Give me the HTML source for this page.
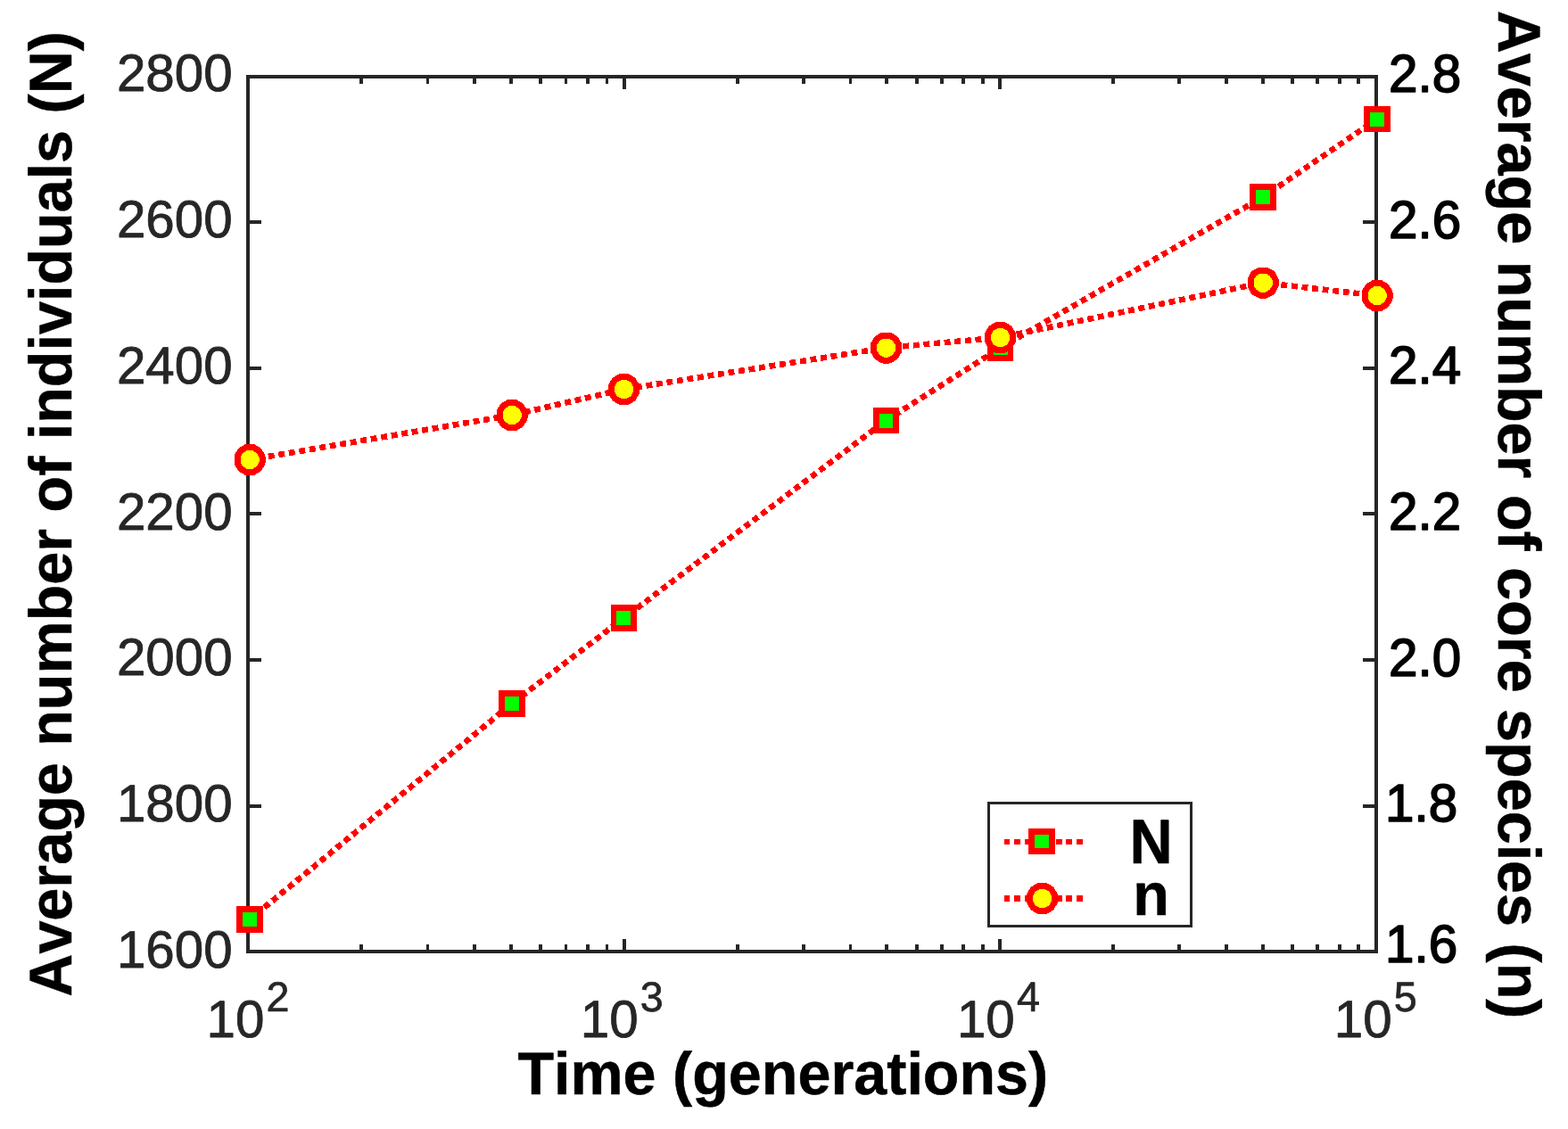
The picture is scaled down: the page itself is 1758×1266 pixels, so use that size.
<!DOCTYPE html>
<html lang="en"><head><meta charset="utf-8">
<title>Average number of individuals (N) and core species (n) vs time</title>
<style>
html,body{margin:0;padding:0;background:#fff;}
body{width:1758px;height:1266px;overflow:hidden;}
svg{display:block;}
text{font-family:"Liberation Sans", sans-serif;font-kerning:none;font-variant-ligatures:none;text-rendering:geometricPrecision;}
.tk{font-size:58.33px;fill:#262626;stroke:#262626;stroke-width:0.8px;stroke-linejoin:round;}
.tkr{font-size:58.33px;fill:#000;stroke:#000;stroke-width:1.6px;stroke-linejoin:round;}
.sup{font-size:46.67px;fill:#262626;stroke-width:0.7px;}
.lab{font-size:66.67px;font-weight:bold;fill:#000;stroke:#000;stroke-width:0.5px;stroke-linejoin:round;}
.ax{fill:#262626;shape-rendering:crispEdges;}
.dl{fill:none;stroke:#ff0000;stroke-width:6.6;stroke-dasharray:6.9 4.75;stroke-dashoffset:2.1;stroke-linejoin:miter;shape-rendering:crispEdges;}
.sqo{fill:#ff0000;shape-rendering:crispEdges;}
.sqi{fill:#00ff00;shape-rendering:crispEdges;}
.ci{fill:#ffff00;stroke:#ff0000;stroke-width:7;stroke-linejoin:round;shape-rendering:crispEdges;}
.lg{stroke-width:6;stroke-dasharray:6 5 7 5 7 5 7 4.5 7 4.5 7 4 7 5 7;stroke-dashoffset:0;}
</style></head><body>
<svg width="1758" height="1266" viewBox="0 0 1758 1266">
<rect x="0" y="0" width="1758" height="1266" fill="#fff"/>
<g class="ax">
<rect x="276.0" y="84.0" width="1269" height="4"/>
<rect x="276.0" y="1065.0" width="1269" height="4"/>
<rect x="276.0" y="84.0" width="4" height="985"/>
<rect x="1541.0" y="84.0" width="4" height="985"/>
<rect x="276.0" y="247" width="17" height="4"/>
<rect x="1528.0" y="247" width="17" height="4"/>
<rect x="276.0" y="411" width="17" height="4"/>
<rect x="1528.0" y="411" width="17" height="4"/>
<rect x="276.0" y="574" width="17" height="4"/>
<rect x="1528.0" y="574" width="17" height="4"/>
<rect x="276.0" y="738" width="17" height="4"/>
<rect x="1528.0" y="738" width="17" height="4"/>
<rect x="276.0" y="902" width="17" height="4"/>
<rect x="1528.0" y="902" width="17" height="4"/>
<rect x="403" y="1059.0" width="4" height="10"/>
<rect x="403" y="84.0" width="4" height="10"/>
<rect x="478" y="1059.0" width="3" height="10"/>
<rect x="478" y="84.0" width="3" height="10"/>
<rect x="530" y="1059.0" width="4" height="10"/>
<rect x="530" y="84.0" width="4" height="10"/>
<rect x="571" y="1059.0" width="4" height="10"/>
<rect x="571" y="84.0" width="4" height="10"/>
<rect x="604" y="1059.0" width="4" height="10"/>
<rect x="604" y="84.0" width="4" height="10"/>
<rect x="633" y="1059.0" width="3" height="10"/>
<rect x="633" y="84.0" width="3" height="10"/>
<rect x="657" y="1059.0" width="4" height="10"/>
<rect x="657" y="84.0" width="4" height="10"/>
<rect x="679" y="1059.0" width="3" height="10"/>
<rect x="679" y="84.0" width="3" height="10"/>
<rect x="698" y="1053.0" width="4" height="16"/>
<rect x="698" y="84.0" width="4" height="16"/>
<rect x="825" y="1059.0" width="4" height="10"/>
<rect x="825" y="84.0" width="4" height="10"/>
<rect x="899" y="1059.0" width="4" height="10"/>
<rect x="899" y="84.0" width="4" height="10"/>
<rect x="952" y="1059.0" width="3" height="10"/>
<rect x="952" y="84.0" width="3" height="10"/>
<rect x="992" y="1059.0" width="4" height="10"/>
<rect x="992" y="84.0" width="4" height="10"/>
<rect x="1026" y="1059.0" width="4" height="10"/>
<rect x="1026" y="84.0" width="4" height="10"/>
<rect x="1054" y="1059.0" width="4" height="10"/>
<rect x="1054" y="84.0" width="4" height="10"/>
<rect x="1078" y="1059.0" width="4" height="10"/>
<rect x="1078" y="84.0" width="4" height="10"/>
<rect x="1100" y="1059.0" width="4" height="10"/>
<rect x="1100" y="84.0" width="4" height="10"/>
<rect x="1119" y="1053.0" width="4" height="16"/>
<rect x="1119" y="84.0" width="4" height="16"/>
<rect x="1246" y="1059.0" width="4" height="10"/>
<rect x="1246" y="84.0" width="4" height="10"/>
<rect x="1320" y="1059.0" width="4" height="10"/>
<rect x="1320" y="84.0" width="4" height="10"/>
<rect x="1373" y="1059.0" width="4" height="10"/>
<rect x="1373" y="84.0" width="4" height="10"/>
<rect x="1414" y="1059.0" width="4" height="10"/>
<rect x="1414" y="84.0" width="4" height="10"/>
<rect x="1447" y="1059.0" width="4" height="10"/>
<rect x="1447" y="84.0" width="4" height="10"/>
<rect x="1475" y="1059.0" width="4" height="10"/>
<rect x="1475" y="84.0" width="4" height="10"/>
<rect x="1500" y="1059.0" width="4" height="10"/>
<rect x="1500" y="84.0" width="4" height="10"/>
<rect x="1521" y="1059.0" width="4" height="10"/>
<rect x="1521" y="84.0" width="4" height="10"/>
</g>
<text class="tk" transform="translate(260.65 102.40) scale(1.0 1.008)" text-anchor="end">2800</text>
<text class="tk" transform="translate(260.65 266.10) scale(1.0 1.008)" text-anchor="end">2600</text>
<text class="tk" transform="translate(260.65 429.80) scale(1.0 1.008)" text-anchor="end">2400</text>
<text class="tk" transform="translate(260.65 593.50) scale(1.0 1.008)" text-anchor="end">2200</text>
<text class="tk" transform="translate(260.65 757.20) scale(1.0 1.008)" text-anchor="end">2000</text>
<text class="tk" transform="translate(260.65 920.90) scale(1.0 1.008)" text-anchor="end">1800</text>
<text class="tk" transform="translate(260.65 1084.60) scale(1.0 1.008)" text-anchor="end">1600</text>
<text class="tkr" transform="translate(1557.00 103.30) scale(1.0 1.021)">2.8</text>
<text class="tkr" transform="translate(1557.00 266.86) scale(1.0 1.021)">2.6</text>
<text class="tkr" transform="translate(1557.00 430.42) scale(1.0 1.021)">2.4</text>
<text class="tkr" transform="translate(1557.00 593.98) scale(1.0 1.021)">2.2</text>
<text class="tkr" transform="translate(1557.00 757.54) scale(1.0 1.021)">2.0</text>
<text class="tkr" transform="translate(1553.00 921.10) scale(1.0 1.021)">1.8</text>
<text class="tkr" transform="translate(1553.00 1079.20) scale(1.0 1.021)">1.6</text>
<text class="tk" transform="translate(231.50 1162.80) scale(1.0 1.008)">10<tspan class="sup" dx="2.2" dy="-29.07">2</tspan></text>
<text class="tk" transform="translate(650.77 1162.80) scale(1.0 1.008)">10<tspan class="sup" dx="2.2" dy="-29.07">3</tspan></text>
<text class="tk" transform="translate(1072.93 1162.80) scale(1.0 1.008)">10<tspan class="sup" dx="2.2" dy="-29.07">4</tspan></text>
<text class="tk" transform="translate(1495.70 1162.80) scale(1.0 1.008)">10<tspan class="sup" dx="2.2" dy="-29.07">5</tspan></text>
<text class="lab" transform="translate(877.80 1226.80) scale(0.9975 1.01)" text-anchor="middle">Time (generations)</text>
<text class="lab" transform="translate(79.80 576.40) rotate(-90) scale(0.9975 1.01)" text-anchor="middle">Average number of individuals (N)</text>
<text class="lab" transform="translate(1680.10 577.10) rotate(90) scale(0.9975 1.01)" text-anchor="middle">Average number of core species (n)</text>
<polyline class="dl" points="280,1031 574,789 699.5,693 993.5,471.5 1121.5,390 1416,221 1544,133.5"/>
<rect class="sqo" x="265" y="1016" width="30" height="30"/><rect class="sqi" x="272" y="1023" width="16" height="16"/>
<rect class="sqo" x="559" y="774" width="30" height="30"/><rect class="sqi" x="566" y="781" width="16" height="16"/>
<rect class="sqo" x="685" y="678" width="29" height="30"/><rect class="sqi" x="691" y="685" width="16" height="16"/>
<rect class="sqo" x="979" y="457" width="29" height="29"/><rect class="sqi" x="986" y="464" width="15" height="16"/>
<rect class="sqo" x="1107" y="375" width="29" height="30"/><rect class="sqi" x="1114" y="382" width="16" height="16"/>
<rect class="sqo" x="1401" y="206" width="30" height="30"/><rect class="sqi" x="1408" y="213" width="16" height="16"/>
<rect class="sqo" x="1529" y="119" width="30" height="29"/><rect class="sqi" x="1536" y="126" width="16" height="16"/>
<polyline class="dl" points="280,515.5 574,465.5 699.5,436.5 993.5,390 1121.5,378.5 1416,317 1544,331.5"/>
<polygon class="ci" points="294.00,519.25 290.25,525.75 283.75,529.50 276.25,529.50 269.75,525.75 266.00,519.25 266.00,511.75 269.75,505.25 276.25,501.50 283.75,501.50 290.25,505.25 294.00,511.75"/>
<polygon class="ci" points="588.00,469.25 584.25,475.75 577.75,479.50 570.25,479.50 563.75,475.75 560.00,469.25 560.00,461.75 563.75,455.25 570.25,451.50 577.75,451.50 584.25,455.25 588.00,461.75"/>
<polygon class="ci" points="713.50,440.25 709.75,446.75 703.25,450.50 695.75,450.50 689.25,446.75 685.50,440.25 685.50,432.75 689.25,426.25 695.75,422.50 703.25,422.50 709.75,426.25 713.50,432.75"/>
<polygon class="ci" points="1007.50,393.75 1003.75,400.25 997.25,404.00 989.75,404.00 983.25,400.25 979.50,393.75 979.50,386.25 983.25,379.75 989.75,376.00 997.25,376.00 1003.75,379.75 1007.50,386.25"/>
<polygon class="ci" points="1135.50,382.25 1131.75,388.75 1125.25,392.50 1117.75,392.50 1111.25,388.75 1107.50,382.25 1107.50,374.75 1111.25,368.25 1117.75,364.50 1125.25,364.50 1131.75,368.25 1135.50,374.75"/>
<polygon class="ci" points="1430.00,320.75 1426.25,327.25 1419.75,331.00 1412.25,331.00 1405.75,327.25 1402.00,320.75 1402.00,313.25 1405.75,306.75 1412.25,303.00 1419.75,303.00 1426.25,306.75 1430.00,313.25"/>
<polygon class="ci" points="1558.00,335.25 1554.25,341.75 1547.75,345.50 1540.25,345.50 1533.75,341.75 1530.00,335.25 1530.00,327.75 1533.75,321.25 1540.25,317.50 1547.75,317.50 1554.25,321.25 1558.00,327.75"/>
<rect x="1108.5" y="900.5" width="227" height="138" fill="#fff" stroke="#262626" stroke-width="3" shape-rendering="crispEdges"/>
<line class="dl lg" x1="1126" y1="944" x2="1214" y2="944"/>
<rect class="sqo" x="1153" y="929" width="30" height="29"/><rect class="sqi" x="1160" y="936" width="16" height="15"/>
<line class="dl lg" x1="1126" y1="1007.5" x2="1214" y2="1007.5" style="stroke-width:7"/>
<polygon class="ci" points="1182.50,1011.25 1178.75,1017.75 1172.25,1021.50 1164.75,1021.50 1158.25,1017.75 1154.50,1011.25 1154.50,1003.75 1158.25,997.25 1164.75,993.50 1172.25,993.50 1178.75,997.25 1182.50,1003.75"/>
<text class="lab" transform="translate(1290.50 967.50) scale(1.0 1.055)" text-anchor="middle">N</text>
<text class="lab" transform="translate(1290.50 1025.50) scale(1.0 1.0)" text-anchor="middle">n</text>
</svg></body></html>
